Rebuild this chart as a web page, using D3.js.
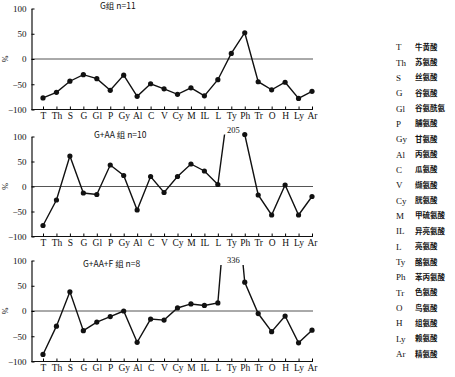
<html lang="zh">
	<head>
		<meta charset="utf-8">
		<title>氨基酸变化</title>
		<script src="https://d3js.org/d3.v7.min.js"></script>
		<style type="text/css">
			body {
				margin: 0;
				background-color: white;
			}
			text {
				font-family: "Liberation Serif", "DejaVu Serif", serif;
				fill: #111;
			}
			text.cjk {
				font-family: "Noto Sans CJK SC", sans-serif;
			}
		</style>
	</head>
	<body>
		<script type="text/javascript">

			//Static dataset
			var categories = ["T", "Th", "S", "G", "Gl", "P", "Gy", "Al", "C", "V", "Cy", "M", "IL", "L", "Ty", "Ph", "Tr", "O", "H", "Ly", "Ar"];
			var names = ["牛黄酸", "苏氨酸", "丝氨酸", "谷氨酸", "谷氨酰氨", "脯氨酸", "甘氨酸", "丙氨酸", "瓜氨酸", "缬氨酸", "胱氨酸",
						 "甲硫氨酸", "异亮氨酸", "亮氨酸", "酪氨酸", "苯丙氨酸", "色氨酸", "鸟氨酸", "组氨酸", "赖氨酸", "精氨酸"];
			var groupG = [-77, -66, -44, -31, -39, -62, -32, -74, -49, -59, -70, -57, -73, -41, 11, 52, -45, -61, -46, -78, -64];
			var groupGAA = [-78, -27, 61, -13, -16, 43, 22, -47, 20, -12, 20, 45, 31, 4, 205, 104, -17, -57, 3, -57, -20];
			var groupGAAF = [-86, -30, 38, -39, -22, -11, 0, -62, -16, -18, 6, 14, 11, 16, 336, 57, -5, -41, -10, -63, -38];
			var yTicks = [100, 50, 0, -50, -100];

			//Width and height
			var w = 455;
			var h = 377;
			var axisX = 31.5;

			var panels = [
				{ title: "G组  n=11", titleX: 100, titleY: 9, values: groupG, top: 8.5, bottom: 109.5, cap: 100 },
				{ title: "G+AA 组  n=10", titleX: 94, titleY: 138, values: groupGAA, top: 136.5, bottom: 236.5, cap: 104 },
				{ title: "G+AA+F 组  n=8", titleX: 83, titleY: 267, values: groupGAAF, top: 260.5, bottom: 361.5, cap: 91 }
			];

			//Create scale functions
			var xScale = d3.scalePoint()
					.domain(categories)
					.range([43, 312]);

			//Create SVG element
			var svg = d3.select("body")
						.append("svg")
						.attr("width", w)
						.attr("height", h);

			panels.forEach(function(p, i) {
				var yScale = d3.scaleLinear()
						.domain([-100, 100])
						.range([p.bottom, p.top]);

				var pts = p.values.map(function(d, j) { return { cat: categories[j], v: d }; });

				var g = svg.append("g");

				//Zero line
				g.append("line")
					.attr("x1", axisX)
					.attr("x2", 313)
					.attr("y1", yScale(0))
					.attr("y2", yScale(0))
					.attr("stroke", "#555")
					.attr("stroke-width", 1);

				//Y axis
				var yAxis = d3.axisLeft()
							  .scale(yScale)
							  .tickValues(yTicks)
							  .tickSize(-3)
							  .tickSizeOuter(0)
							  .tickPadding(5);

				var ya = g.append("g")
					.attr("transform", "translate(" + axisX + ",0)")
					.call(yAxis);
				ya.select(".domain").attr("stroke", "#111").attr("stroke-width", 1.2);
				ya.selectAll("text").attr("font-size", "9px");

				//X axis
				var xAxis = d3.axisBottom()
							  .scale(xScale)
							  .tickSize(-3)
							  .tickPadding(3);

				var xa = g.append("g")
					.attr("transform", "translate(0," + p.bottom + ")")
					.call(xAxis);
				xa.select(".domain").remove();
				xa.selectAll("text").attr("font-size", "9.5px");

				g.append("line")
					.attr("x1", axisX)
					.attr("x2", 313)
					.attr("y1", p.bottom)
					.attr("y2", p.bottom)
					.attr("stroke", "#111")
					.attr("stroke-width", 1.2);

				//Clip for values off the scale
				svg.append("clipPath")
					.attr("id", "clip" + i)
					.append("rect")
					.attr("x", 0)
					.attr("y", yScale(p.cap))
					.attr("width", w)
					.attr("height", p.bottom - yScale(p.cap) + 5);

				var line = d3.line()
					.x(function(d) { return xScale(d.cat); })
					.y(function(d) { return yScale(d.v); });

				g.append("path")
					.datum(pts)
					.attr("clip-path", "url(#clip" + i + ")")
					.attr("d", line)
					.attr("fill", "none")
					.attr("stroke", "#111")
					.attr("stroke-width", 1.4);

				//Create circles
				g.selectAll("circle")
				   .data(pts.filter(function(d) { return d.v <= 110; }))
				   .enter()
				   .append("circle")
				   .attr("cx", function(d) {
				   		return xScale(d.cat);
				   })
				   .attr("cy", function(d) {
				   		return yScale(d.v);
				   })
				   .attr("r", 2.6)
				   .attr("fill", "#111");

				//Label for value off the scale
				g.selectAll(".over")
				   .data(pts.filter(function(d) { return d.v > 110; }))
				   .enter()
				   .append("text")
				   .attr("class", "over")
				   .attr("x", function(d) { return xScale(d.cat) + 2; })
				   .attr("y", yScale(p.cap) - 2)
				   .attr("text-anchor", "middle")
				   .attr("font-size", "8.5px")
				   .text(function(d) { return d.v; });

				//Title
				g.append("text")
					.attr("class", "cjk")
					.attr("x", p.titleX)
					.attr("y", p.titleY)
					.attr("font-size", "8.5px")
					.text(p.title);

				//Y label
				g.append("text")
					.attr("transform", "translate(8," + yScale(0) + ") rotate(-90)")
					.attr("text-anchor", "middle")
					.attr("font-size", "8px")
					.text("%");
			});

			//Legend
			var ly = d3.scaleLinear()
					.domain([0, categories.length - 1])
					.range([47, 354]);

			var legend = svg.selectAll(".legend")
				.data(categories)
				.enter()
				.append("g")
				.attr("class", "legend")
				.attr("transform", function(d, i) { return "translate(0," + ly(i) + ")"; });

			legend.append("text")
				.attr("x", 396)
				.attr("dy", "0.35em")
				.attr("font-size", "9px")
				.text(function(d) { return d; });

			legend.append("text")
				.attr("class", "cjk")
				.attr("x", 415)
				.attr("dy", "0.35em")
				.attr("font-size", "7.5px")
				.attr("font-weight", "bold")
				.text(function(d, i) { return names[i]; });

		</script>
	</body>
</html>
